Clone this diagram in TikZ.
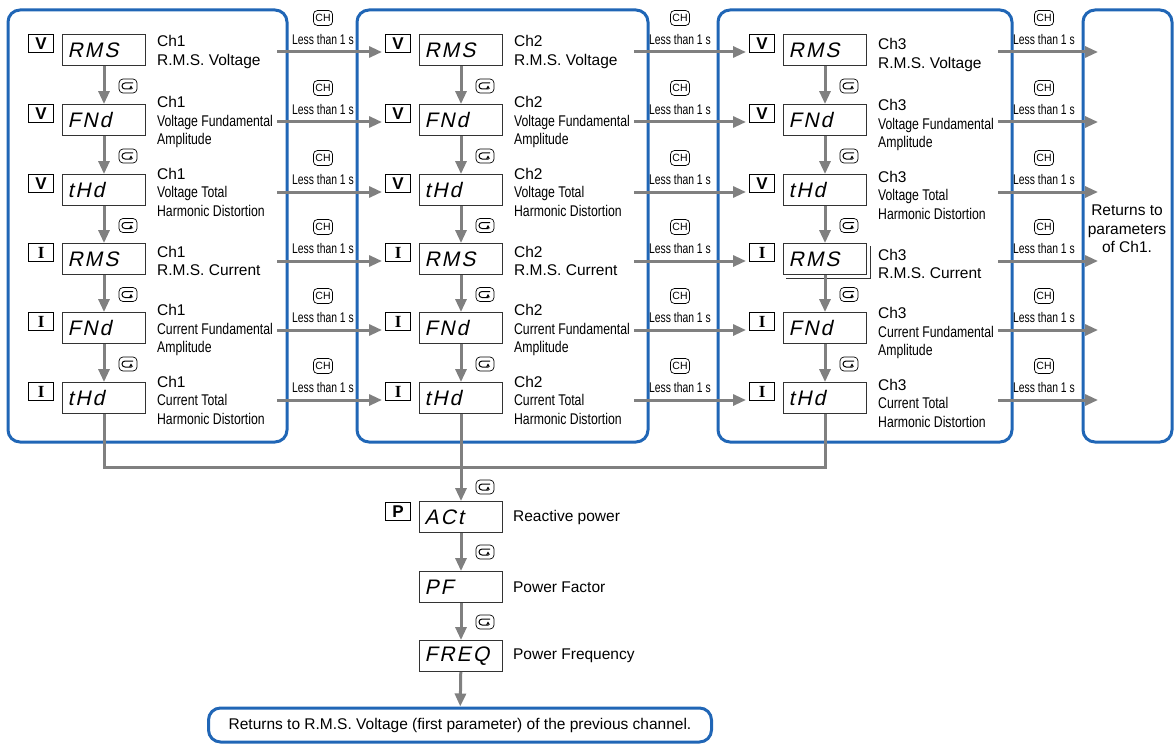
\documentclass[tikz,border=0pt]{standalone}
\usepackage{fontspec}
\setmainfont{Liberation Sans}
\newfontfamily\narrowfont[FakeStretch=0.79]{Liberation Sans}
\newfontfamily\condfont[FakeStretch=0.74]{Liberation Sans}
\newfontfamily\segfont[FakeSlant=0.22,LetterSpace=10]{Liberation Sans}
\newfontfamily\serifkey{Liberation Serif}
\usetikzlibrary{arrows.meta,calc}

\definecolor{panelblue}{RGB}{32,102,182}
\definecolor{flowgrey}{RGB}{128,128,128}

\tikzset{
  panel/.style={draw=panelblue, line width=3pt, rounded corners=12pt},
  disp/.style={draw=black!80, line width=0.9pt, minimum width=83pt, minimum height=31pt,
    text width=73pt, inner xsep=5pt, inner ysep=0pt, align=left,
    font=\segfont\fontsize{21}{21}\selectfont},
  keybox/.style={draw, line width=0.8pt, minimum width=25pt, minimum height=18pt,
    inner sep=0pt, font=\bfseries\fontsize{17}{17}\selectfont},
  desc/.style={anchor=west, align=left, inner sep=0pt, font=\fontsize{15.5}{18.5}\selectfont},
  flow/.style={draw=flowgrey, line width=3pt},
  arr/.style={flow, -{Triangle[length=13pt,width=11pt]}},
  chkey/.style={draw, line width=0.7pt, rounded corners=4pt, inner xsep=2pt, inner ysep=1.5pt,
    minimum height=15pt, font=\fontsize{10.5}{10.5}\selectfont},
  lessnote/.style={inner sep=0pt, font=\condfont\fontsize{14}{14}\selectfont},
  cyc/.pic={
    \draw[line width=0.7pt, rounded corners=4pt] (-9,-7) rectangle (9,7);
    \draw[line width=1pt, -{Stealth[length=3.5pt,width=4pt]}]
      (5,-3) -- (-3,-3) arc (270:90:3) -- (3,3) -- (3,-0.5);
  }
}

\begin{document}
\begin{tikzpicture}[x=1pt,y=-1pt]
\useasboundingbox (0,0) rectangle (1175,749);

% channel panels
\foreach \ch/\xc/\pl/\pr/\dy in {1/104/8/287/0, 2/461/357/648/0, 3/825/718/1012/3}{
  \draw[panel] (\pl,10) rectangle (\pr,442);
  \foreach \rw/\yy/\key/\seg/\txt in {
      1/50/V/RMS/{R.M.S. Voltage},
      2/120/V/FNd/{\narrowfont Voltage Fundamental\\\narrowfont Amplitude},
      3/190/V/tHd/{\narrowfont Voltage Total\\\narrowfont Harmonic Distortion},
      4/259/{\serifkey I}/RMS/{R.M.S. Current},
      5/328/{\serifkey I}/FNd/{\narrowfont Current Fundamental\\\narrowfont Amplitude},
      6/398/{\serifkey I}/tHd/{\narrowfont Current Total\\\narrowfont Harmonic Distortion}}{
    \node[disp] (d\ch\rw) at (\xc,\yy) {\seg};
    \node[keybox, anchor=north east] (k\ch\rw) at ($(d\ch\rw.north west)+(-8,0)$) {\key};
    \node[desc] (t\ch\rw) at ($(d\ch\rw.east)+(11,2+\dy)$) {Ch\ch\\\txt};
    \coordinate (in\ch\rw) at (\xc-79,\yy+2);
    \coordinate (out\ch\rw) at (\xc+173,\yy+2);
  }
}

% last panel
\draw[panel] (1083,10) rectangle (1172,442);
\node[align=center, font=\fontsize{15.5}{18.5}\selectfont] (back) at (1127,229)
  {Returns to\\parameters\\of Ch1.};
\foreach \rw/\yy in {1/50,2/120,3/190,4/259,5/328,6/398}
  \coordinate (in4\rw) at (1098,\yy+2);

% second display behind Ch3 R.M.S. Current
\draw[draw=black!80, line width=0.9pt] ($(d34.north east)+(3,3)$) -- ($(d34.south east)+(3,3)$)
  -- ($(d34.south west)+(3,3)$);

% CH key: next channel
\foreach \ch/\nx in {1/2,2/3,3/4}{
  \foreach \rw in {1,...,6}{
    \draw[arr] (out\ch\rw) -- (in\nx\rw);
    \node[chkey] (ck\ch\rw) at ($(out\ch\rw)+(46,-34)$) {CH};
    \node[lessnote] (ls\ch\rw) at ($(out\ch\rw)+(46,-13)$) {Less than 1 s};
  }
}

% cycle key: next parameter
\foreach \ch in {1,2,3}{
  \foreach \rw/\nx in {1/2,2/3,3/4,4/5,5/6}{
    \draw[arr] (d\ch\rw.south) -- (d\ch\nx.north);
    \pic at ($(d\ch\rw.south)!0.5!(d\ch\nx.north)+(24,1)$) {cyc};
  }
}

% common parameters
\node[disp] (act) at (461,517) {ACt};
\node[keybox, anchor=north east] (kp) at ($(act.north west)+(-8,1)$) {P};
\node[desc] (tact) at ($(act.east)+(10,0)$) {Reactive power};
\node[disp] (pf) at (461,587) {PF};
\node[desc] (tpf) at ($(pf.east)+(10,0)$) {Power Factor};
\node[disp] (freq) at (461,656) {FREQ};
\node[desc] (tfreq) at ($(freq.east)+(10,0)$) {Power Frequency};
\node[panel, minimum width=503pt, minimum height=34pt, font=\fontsize{15.5}{18.5}\selectfont]
  (ret) at (460,725) {Returns to R.M.S. Voltage (first parameter) of the previous channel.};

\coordinate (mrg) at (461,467);
\draw[flow] (d16.south) |- (mrg) -| (d36.south);
\draw[arr] (d26.south) -- (act.north);
\draw[arr] (act) -- (pf);
\draw[arr] (pf) -- (freq);
\draw[arr] (freq) -- (ret);
\pic at (485,487) {cyc};
\pic at (485,552) {cyc};
\pic at (485,622) {cyc};
\end{tikzpicture}
\end{document}
